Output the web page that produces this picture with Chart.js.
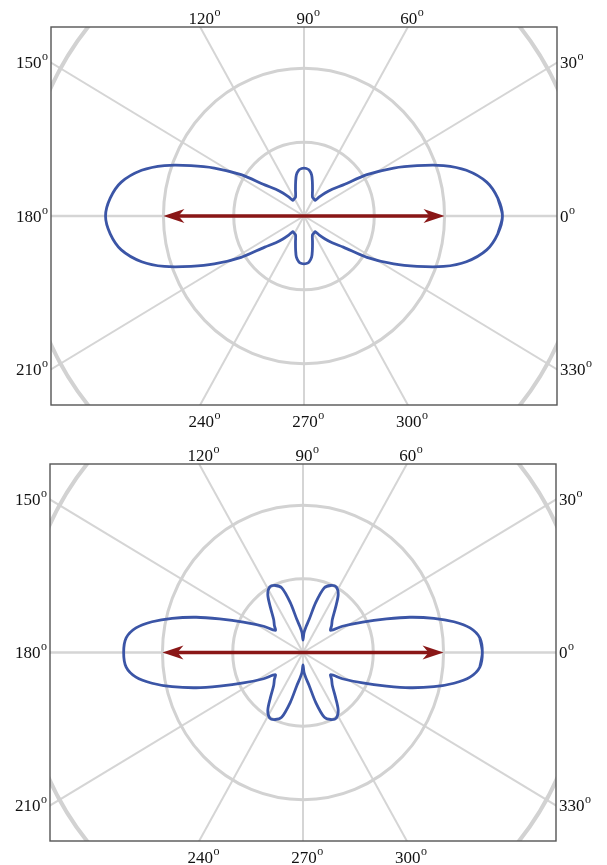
<!DOCTYPE html>
<html>
<head>
<meta charset="utf-8">
<script src="https://cdn.jsdelivr.net/npm/chart.js@4.4.1/dist/chart.umd.min.js"></script>
<style>
    html, body { margin: 0; padding: 0; background: #fff; }
    body { width: 607px; height: 865px; position: relative; overflow: hidden; }
    .panel { position: absolute; left: 0; width: 607px; }
    #top-panel { top: 0; height: 432px; }
    #bottom-panel { top: 432px; height: 433px; }
</style>
</head>
<body>
<div class="panel" id="top-panel"><canvas id="topChart" width="607" height="432"></canvas></div>
<div class="panel" id="bottom-panel"><canvas id="bottomChart" width="607" height="433"></canvas></div>
<script>
// Pattern radii for the first quadrant (deg, plot units).
// Both patterns are mirror-symmetric about the 0-180 and 90-270 axes.
const topAngles = [0, 5, 10, 15, 19, 23, 27, 32, 37, 42, 46, 50, 53.5, 59, 65, 71, 75.5, 79, 83.5, 87, 90];
const topRadii = [0.706, 0.692, 0.660, 0.598, 0.525, 0.437, 0.358, 0.264, 0.175, 0.135, 0.108, 0.083, 0.066, 0.068, 0.071, 0.093, 0.119, 0.142, 0.157, 0.161, 0.162];

const bottomAngles = [0, 4.5, 8, 11, 14, 17.5, 21, 26, 32.5, 37.3, 42, 47, 53, 57.5, 62, 66.5, 71, 75, 79, 83, 87, 90];
const bottomRadii = [0.638, 0.631, 0.600, 0.547, 0.480, 0.398, 0.318, 0.236, 0.166, 0.124, 0.137, 0.153, 0.193, 0.233, 0.252, 0.248, 0.232, 0.176, 0.114, 0.088, 0.067, 0.042];

// grid
const ringRadii = [0.25, 0.5, 1];
const spokeAngles = [0, 30, 60, 90, 120, 150, 180, 210, 240, 270, 300, 330];
const spokeLabels = ['0', '30', '60', '90', '120', '150', '180', '210', '240', '270', '300', '330'];

// dipole arrow along the 0-180 axis
const arrowSpan = [-0.5, 0.5];

const X_RANGE = 0.9, Y_RANGE = 0.64;
const BLUE = '#3b55a6';
const DARK_RED = '#8a1717';
const rad = d => d * Math.PI / 180;

function buildLoop(angles, radii) {
    const quad = angles.map((a, i) => [a, radii[i]]);
    const pts = [];
    quad.forEach(([a, r]) => pts.push([a, r]));
    quad.slice(0, -1).reverse().forEach(([a, r]) => pts.push([180 - a, r]));
    quad.slice(1).forEach(([a, r]) => pts.push([180 + a, r]));
    quad.slice(1, -1).reverse().forEach(([a, r]) => pts.push([360 - a, r]));
    const xy = pts.map(([a, r]) => ({ x: r * Math.cos(rad(a)), y: r * Math.sin(rad(a)) }));
    // wrap a couple of points so the spline closes smoothly
    return [xy[xy.length - 1], ...xy, xy[0], xy[1]];
}

function drawLabel(ctx, text, x, baseline) {
    ctx.font = '17px "Liberation Serif", "Times New Roman", serif';
    ctx.fillText(text, x, baseline);
    const w = ctx.measureText(text).width;
    ctx.font = '12px "Liberation Serif", "Times New Roman", serif';
    ctx.fillText('o', x + w + 0.5, baseline - 8);
}

function labelWidth(ctx, text) {
    ctx.font = '17px "Liberation Serif", "Times New Roman", serif';
    const w = ctx.measureText(text).width;
    ctx.font = '12px "Liberation Serif", "Times New Roman", serif';
    return { digits: w, full: w + 0.5 + ctx.measureText('o').width };
}

const polarFrame = {
    id: 'polarFrame',
    beforeDatasetsDraw(chart) {
        const { ctx, chartArea: a, scales: { x, y } } = chart;
        const cx = x.getPixelForValue(0), cy = y.getPixelForValue(0);
        ctx.save();
        ctx.beginPath();
        ctx.rect(a.left, a.top, a.right - a.left, a.bottom - a.top);
        ctx.clip();

        ctx.strokeStyle = '#d5d5d5';
        spokeAngles.forEach(deg => {
            ctx.lineWidth = (deg % 180 === 0) ? 2.6 : 2;
            ctx.beginPath();
            ctx.moveTo(cx, cy);
            ctx.lineTo(x.getPixelForValue(2 * Math.cos(rad(deg))), y.getPixelForValue(2 * Math.sin(rad(deg))));
            ctx.stroke();
        });

        ctx.strokeStyle = '#d2d2d2';
        ringRadii.forEach((r, i) => {
            const rx = x.getPixelForValue(r) - cx;
            const ry = cy - y.getPixelForValue(r);
            ctx.lineWidth = i === ringRadii.length - 1 ? 4 : 3;
            ctx.beginPath();
            ctx.ellipse(cx, cy, rx, ry, 0, 0, Math.PI * 2);
            ctx.stroke();
        });
        ctx.restore();
    },
    afterDatasetsDraw(chart) {
        const { ctx, scales: { x, y } } = chart;
        const x0 = x.getPixelForValue(arrowSpan[0]);
        const x1 = x.getPixelForValue(arrowSpan[1]);
        const yc = y.getPixelForValue(0);
        ctx.save();
        ctx.strokeStyle = DARK_RED;
        ctx.fillStyle = DARK_RED;
        ctx.lineWidth = 3.5;
        ctx.beginPath();
        ctx.moveTo(x0 + 14, yc);
        ctx.lineTo(x1 - 14, yc);
        ctx.stroke();
        const head = (tip, dir) => {
            ctx.beginPath();
            ctx.moveTo(tip, yc);
            ctx.lineTo(tip - dir * 21, yc - 7);
            ctx.lineTo(tip - dir * 15, yc);
            ctx.lineTo(tip - dir * 21, yc + 7);
            ctx.closePath();
            ctx.fill();
        };
        head(x1, 1);
        head(x0, -1);
        ctx.restore();
    },
    afterDraw(chart) {
        const { ctx, chartArea: a, scales: { x, y } } = chart;
        const cx = x.getPixelForValue(0), cy = y.getPixelForValue(0);
        const sx = x.getPixelForValue(1) - cx, sy = cy - y.getPixelForValue(1);
        const halfW = (a.right - a.left) / 2, halfH = (a.bottom - a.top) / 2;

        ctx.save();
        ctx.strokeStyle = '#555';
        ctx.lineWidth = 1.4;
        ctx.strokeRect(a.left, a.top, a.right - a.left, a.bottom - a.top);

        ctx.fillStyle = '#111';
        ctx.textAlign = 'left';
        ctx.textBaseline = 'alphabetic';
        spokeAngles.forEach((deg, i) => {
            const dx = Math.cos(rad(deg)) * sx, dy = -Math.sin(rad(deg)) * sy;
            const tW = Math.abs(dx) > 1e-9 ? halfW / Math.abs(dx) : Infinity;
            const tH = Math.abs(dy) > 1e-9 ? halfH / Math.abs(dy) : Infinity;
            const text = spokeLabels[i];
            const w = labelWidth(ctx, text);
            if (tW <= tH) {
                const py = cy + dy * tW;
                if (dx > 0) drawLabel(ctx, text, a.right + 3, py + 5.5);
                else drawLabel(ctx, text, a.left - 3 - w.full, py + 5.5);
            } else {
                const px = cx + dx * tH;
                if (dy < 0) drawLabel(ctx, text, px + 1 - w.digits / 2, a.top - 3);
                else drawLabel(ctx, text, px + 1 - w.digits / 2, a.bottom + 22);
            }
        });
        ctx.restore();
    }
};

function makeChart(id, angles, radii, padding) {
    return new Chart(document.getElementById(id), {
        type: 'scatter',
        data: {
            datasets: [{
                data: buildLoop(angles, radii),
                showLine: true,
                borderColor: BLUE,
                borderWidth: 2.8,
                pointRadius: 0,
                tension: 0.3,
                fill: false
            }]
        },
        options: {
            responsive: false,
            animation: false,
            events: [],
            layout: { padding },
            plugins: { legend: { display: false }, tooltip: { enabled: false } },
            scales: {
                x: { type: 'linear', min: -X_RANGE, max: X_RANGE, display: false },
                y: { type: 'linear', min: -Y_RANGE, max: Y_RANGE, display: false }
            }
        },
        plugins: [polarFrame]
    });
}

makeChart('topChart', topAngles, topRadii, { left: 51, right: 50, top: 27, bottom: 27 });
makeChart('bottomChart', bottomAngles, bottomRadii, { left: 50, right: 51, top: 32, bottom: 24 });
</script>
</body>
</html>
